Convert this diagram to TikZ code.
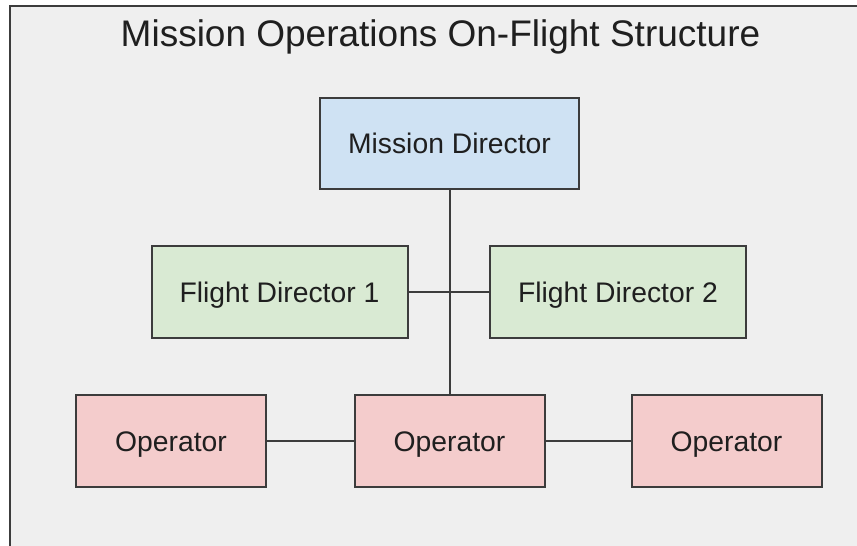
\documentclass[tikz,border=0pt]{standalone}
\usepackage{fontspec}
\setmainfont{Liberation Sans}
\definecolor{pagebg}{HTML}{EFEFEF}
\definecolor{edge}{HTML}{3C3C3C}
\definecolor{ink}{HTML}{1F1F1F}
\definecolor{mdfill}{HTML}{CFE2F3}
\definecolor{fdfill}{HTML}{D9EAD3}
\definecolor{opfill}{HTML}{F4CCCC}
\begin{document}
\begin{tikzpicture}[x=1pt,y=-1pt,
  rolebox/.style={draw=edge, line width=2pt, inner sep=0pt, text=ink,
    font=\fontsize{28.3}{34}\selectfont, align=center,
    text height=20pt, text depth=0pt},
  mdbox/.style={rolebox, fill=mdfill, minimum width=259pt, minimum height=91pt},
  fdbox/.style={rolebox, fill=fdfill, minimum width=256pt, minimum height=92pt},
  opbox/.style={rolebox, fill=opfill, minimum width=190pt, minimum height=92pt},
  link/.style={draw=edge, line width=2pt}]
  \useasboundingbox (0,0) rectangle (857,546);
  \fill[white] (0,0) rectangle (857,546);
  % framed canvas, running off the right and bottom edges
  \draw[edge, line width=2pt, fill=pagebg] (9.5,600) -- (9.5,5.5) -- (900,5.5) -- (900,600) -- cycle;

  \node[text=ink, font=\fontsize{37}{44}\selectfont, anchor=base] (title) at (440.5,46) {Mission Operations On-Flight Structure};

  \node[mdbox] (md) at (449.5,143.5) {Mission Director};
  \node[fdbox] (fd1) at (279.5,292) {Flight Director 1};
  \node[fdbox] (fd2) at (618,292) {Flight Director 2};
  \node[opbox] (op1) at (171,441) {Operator};
  \node[opbox] (op2) at (449.5,441) {Operator};
  \node[opbox] (op3) at (726.5,441) {Operator};

  \path[link] (md.south) -- (op2.north);
  \path[link] (fd1.east) -- (fd2.west);
  \path[link] (op1.east) -- (op2.west);
  \path[link] (op2.east) -- (op3.west);
\end{tikzpicture}
\end{document}
